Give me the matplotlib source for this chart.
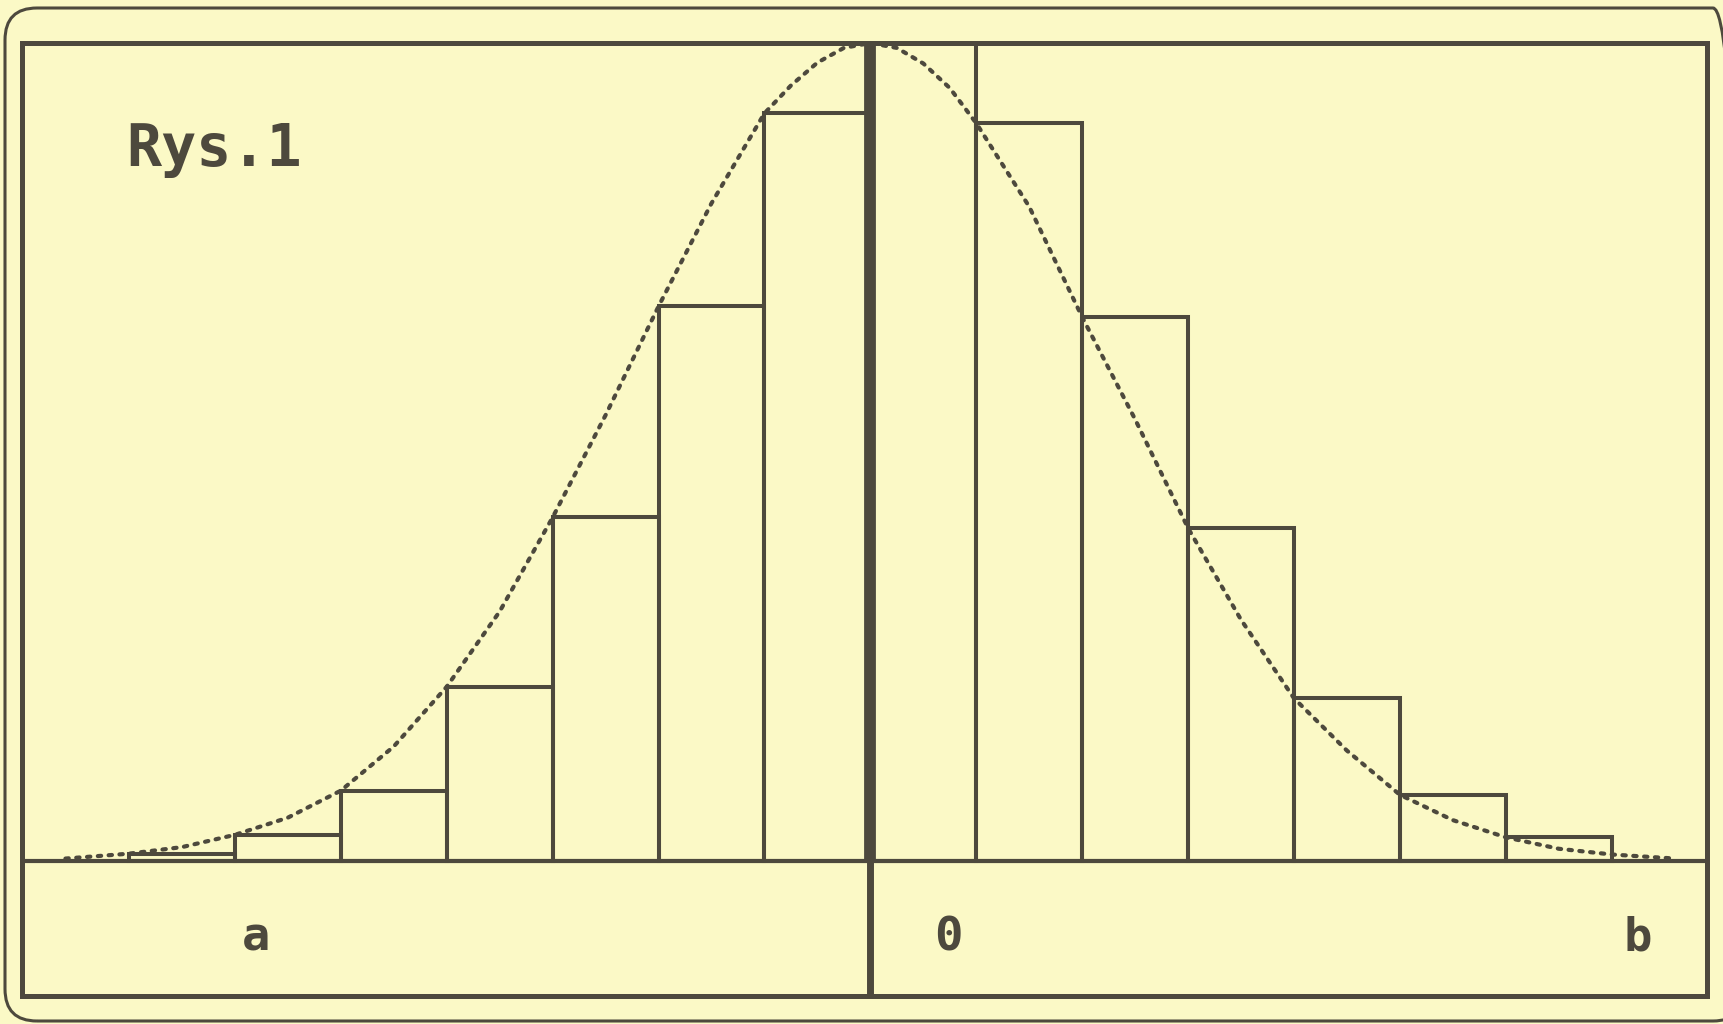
import matplotlib
matplotlib.use("Agg")
import matplotlib.pyplot as plt
from matplotlib.patches import FancyBboxPatch
from matplotlib.transforms import IdentityTransform

# histogram bins (left edge, width 1) and heights
bin_left = [-7, -6, -5, -4, -3, -2, -1, 0, 1, 2, 3, 4, 5, 6]
bin_height = [0.009, 0.032, 0.086, 0.213, 0.420, 0.678, 0.914,
              1.000, 0.902, 0.665, 0.407, 0.199, 0.081, 0.029]

# dotted bell curve
curve_x = [-7.6, -7.0, -6.5, -6.0, -5.5, -5.0, -4.5, -4.0, -3.5, -3.0, -2.5,
           -2.0, -1.5, -1.0, -0.75, -0.5, -0.25, 0.0, 0.25, 0.5, 0.75, 1.0,
           1.5, 2.0, 2.5, 3.0, 3.5, 4.0, 4.5, 5.0, 5.5, 6.0, 6.5, 7.0, 7.6]
curve_y = [0.003, 0.009, 0.017, 0.032, 0.053, 0.086, 0.140, 0.213, 0.305,
           0.420, 0.545, 0.678, 0.804, 0.914, 0.948, 0.976, 0.994, 1.000,
           0.994, 0.975, 0.945, 0.902, 0.800, 0.665, 0.540, 0.407, 0.295,
           0.199, 0.135, 0.081, 0.050, 0.029, 0.015, 0.008, 0.003]

title = "Rys.1"
axis_labels = ["a", "0", "b"]
label_x = [-5.8, 0.74, 7.25]

ink = "#4d493d"
paper = "#fbf9c6"
mono = ["DejaVu Sans Mono"]

fig = plt.figure(figsize=(17.24, 10.24), dpi=100, facecolor=paper)

# rounded outer border of the screen
border = FancyBboxPatch((5, 3), 1740, 1013, boxstyle="round,pad=0,rounding_size=32",
                        transform=IdentityTransform(), fill=False,
                        edgecolor=ink, linewidth=2.2)
fig.add_artist(border)

ax = fig.add_axes([22 / 1724, 1 - 996 / 1024, (1707 - 22) / 1724, (996 - 43) / 1024])
ax.set_facecolor(paper)
ax.set_xlim(-8.01, 7.90)
ax.set_ylim(-0.165, 1.0)
ax.set_xticks([])
ax.set_yticks([])
for s in ax.spines.values():
    s.set_color(ink)
    s.set_linewidth(3.6)

ax.bar(bin_left, bin_height, width=1.0, align="edge", fill=False,
       edgecolor=ink, linewidth=2.9, zorder=2)

ax.plot(curve_x, curve_y, color=ink, linewidth=3.0,
        linestyle=(0, (0.8, 1.8)), dash_capstyle="round", zorder=3)

# baseline and centre line
ax.axhline(0, color=ink, linewidth=3.0, zorder=4)
ax.plot([0, 0], [0, 1.0], color=ink, linewidth=8.5, solid_capstyle="butt", zorder=4)
ax.plot([0, 0], [-0.165, 0], color=ink, linewidth=5.0, solid_capstyle="butt", zorder=4)

for lab, lx in zip(axis_labels, label_x):
    ax.text(lx, -0.094, lab, family=mono, fontweight="bold", fontsize=34,
            color=ink, ha="center", va="center")

fig.text(126 / 1724, 1 - 150 / 1024, title, family=mono, fontweight="bold",
         fontsize=42, color=ink, ha="left", va="center")

fig.savefig("out.png", dpi=100, facecolor=paper)
